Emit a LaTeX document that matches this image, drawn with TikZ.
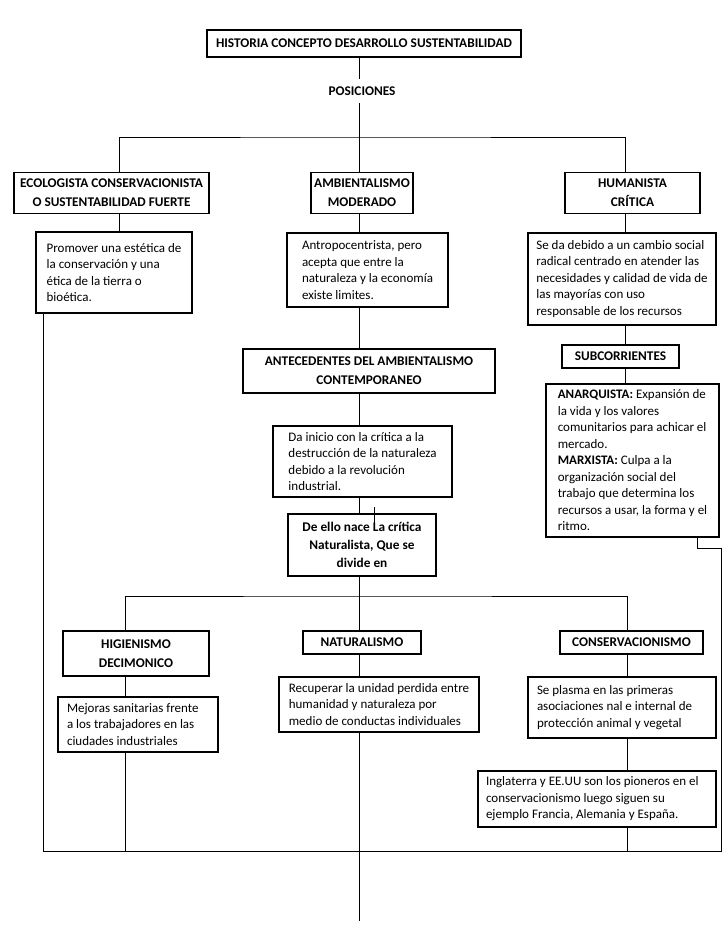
\documentclass[tikz,border=0pt]{standalone}
\usepackage{fontspec}
\setmainfont{Carlito}
\begin{document}
\begin{tikzpicture}[x=1pt,y=-1pt,
  box/.style={draw, line width=1.1pt, inner sep=0pt, inner xsep=8pt, align=left,
    font=\fontsize{13}{16.5}\selectfont},
  hbox/.style={draw, line width=1.1pt, inner sep=0pt, align=center,
    font=\bfseries\fontsize{13.3}{19}\selectfont},
  conn/.style={line width=0.9pt}]
\useasboundingbox (0,0) rectangle (728,943);
% column coordinates
\coordinate (xM) at (359,0);
\coordinate (xL) at (119,0);
\coordinate (xR) at (625,0);
\coordinate (xL2) at (125,0);
\coordinate (xR2) at (627,0);
\coordinate (xE) at (43,0);
\coordinate (xF) at (721,0);
\coordinate (xA) at (697,0);
\coordinate (j1) at (359,137);
\coordinate (j2) at (359,596);
\coordinate (jb) at (359,851);
\coordinate (kink) at (0,548);
\coordinate (bot) at (359,921);
\coordinate (stray1) at (374,507);
\coordinate (stray2) at (374,531);

% nodes
\node[hbox, minimum width=314, minimum height=27] (title) at (364,43.5) {HISTORIA CONCEPTO DESARROLLO SUSTENTABILIDAD};
\node[font=\bfseries\fontsize{13.3}{15}\selectfont, inner sep=0pt, minimum height=24] (pos) at (362,91) {POSICIONES};

\node[hbox, minimum width=195, minimum height=41] (ecol) at (111.5,193) {ECOLOGISTA CONSERVACIONISTA\\O SUSTENTABILIDAD FUERTE};
\node[hbox, minimum width=102, minimum height=41] (amb) at (362,193) {AMBIENTALISMO\\MODERADO};
\node[hbox, minimum width=135, minimum height=41] (hum) at (632.5,193) {HUMANISTA\\CRÍTICA};

\node[box, minimum width=156, minimum height=81] (ecold) at (114,272.5) {Promover una estética de\\la conservación y una\\ética de la tierra o\\bioética.};
\node[box, minimum width=161, minimum height=74] (ambd) at (367.5,270) {Antropocentrista, pero\\acepta que entre la\\naturaleza y la economía\hspace*{6pt}\\existe limites.};
\node[box, minimum width=188, minimum height=92] (humd) at (622,279) {Se da debido a un cambio social\\radical centrado en atender las\\necesidades y calidad de vida de\\las mayorías con uso\\responsable de los recursos};

\node[hbox, minimum width=252, minimum height=44] (ante) at (369,371) {ANTECEDENTES DEL AMBIENTALISMO\\CONTEMPORANEO};
\node[hbox, minimum width=117, minimum height=23] (subc) at (620.5,356.5) {SUBCORRIENTES};
\node[box, minimum width=173, minimum height=153] (anar) at (632.5,460.5) {\textbf{ANARQUISTA:} Expansión de\\la vida y los valores\\comunitarios para achicar el\\mercado.\\\textbf{MARXISTA:} Culpa a la\\organización social del\\trabajo que determina los\\recursos a usar, la forma y el\\ritmo.};

\node[box, minimum width=179, minimum height=71] (dain) at (362.5,461.5) {Da inicio con la crítica a la\\destrucción de la naturaleza\hspace*{6pt}\\debido a la revolución\\industrial.};
\node[hbox, minimum width=148, minimum height=62, font=\bfseries\fontsize{13.3}{18}\selectfont] (deello) at (362,545) {De ello nace La crítica\\Naturalista, Que se\\divide en};

\node[hbox, minimum width=146, minimum height=45] (hig) at (136,653.5) {HIGIENISMO\\DECIMONICO};
\node[hbox, minimum width=118, minimum height=23] (nat) at (362,642.5) {NATURALISMO};
\node[hbox, minimum width=143, minimum height=23] (cons) at (631.5,642.5) {CONSERVACIONISMO};

\node[box, minimum width=160, minimum height=55, align=flush left, text width=142, inner xsep=9pt] (mej) at (138,724.5) {Mejoras sanitarias frente\\a los trabajadores en las\\ciudades industriales};
\node[box, minimum width=200, minimum height=55] (rec) at (379,704.5) {Recuperar la unidad perdida entre\\humanidad y naturaleza por\\medio de conductas individuales};
\node[box, minimum width=188, minimum height=61, align=flush left, text width=170, inner xsep=9pt] (sepl) at (622,707.5) {Se plasma en las primeras\\asociaciones nal e internal de\\protección animal y vegetal};
\node[box, minimum width=238, minimum height=56, align=flush left, text width=222, inner xsep=8pt] (ingl) at (597,799) {Inglaterra y EE.UU son los pioneros en el\\conservacionismo luego siguen su\\ejemplo Francia, Alemania y España.};

% connectors
\draw[conn] (title.south -| xM) -- (pos.north -| xM);
\draw[conn] (pos.south -| xM) -- (j1);
\draw[conn] (ecol.north -| xL) |- (j1) -| (hum.north -| xR);
\draw[conn] (j1) -- (amb.north -| xM);
\draw[conn] (ecol.south -| xL) -- (ecold.north -| xL);
\draw[conn] (amb.south -| xM) -- (ambd.north -| xM);
\draw[conn] (hum.south -| xR) -- (humd.north -| xR);
\draw[conn] (ambd.south -| xM) -- (ante.north -| xM);
\draw[conn] (ante.south -| xM) -- (dain.north -| xM);
\draw[conn] (dain.south -| xM) -- (deello.north -| xM);
\draw[conn] (stray1) -- (stray2);
\draw[conn] (humd.south -| xR) -- (subc.north -| xR);
\draw[conn] (subc.south -| xR) -- (anar.north -| xR);
\draw[conn] (deello.south -| xM) -- (j2);
\draw[conn] (hig.north -| xL2) |- (j2) -| (cons.north -| xR2);
\draw[conn] (j2) -- (nat.north -| xM);
\draw[conn] (hig.south -| xL2) -- (mej.north -| xL2);
\draw[conn] (nat.south -| xM) -- (rec.north -| xM);
\draw[conn] (cons.south -| xR2) -- (sepl.north -| xR2);
\draw[conn] (sepl.south -| xR2) -- (ingl.north -| xR2);
\draw[conn] (ingl.south -| xR2) -- (xR2 |- jb);
\draw[conn] (mej.south -| xL2) -- (xL2 |- jb);
\draw[conn] (rec.south -| xM) -- (bot);
\draw[conn] (ecold.south -| xE) -- (xE |- jb) -- (xF |- jb) -- (xF |- kink) -- (xA |- kink) -- (anar.south -| xA);
\end{tikzpicture}
\end{document}
